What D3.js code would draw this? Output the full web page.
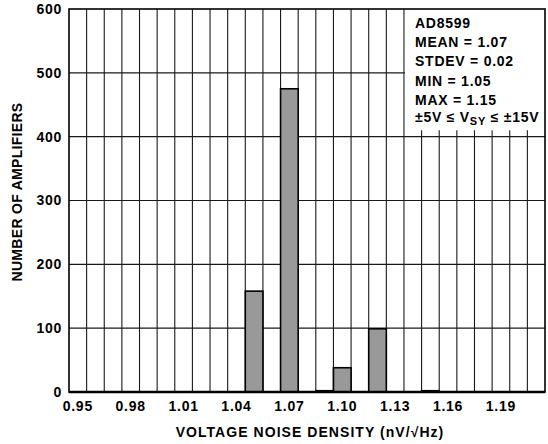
<!DOCTYPE html>
<html><head><meta charset="utf-8">
<script src="https://cdn.jsdelivr.net/npm/d3@7"></script>
<style>body{margin:0;background:#fff}svg text{font-family:"Liberation Sans",Arial,Helvetica,sans-serif;font-weight:bold;fill:#000}</style>
</head><body><svg id="c" width="548" height="444"></svg>
<script>
const bins = ["0.95","0.96","0.97","0.98","0.99","1.00","1.01","1.02","1.03","1.04","1.05","1.06","1.07","1.08","1.09","1.10","1.11","1.12","1.13","1.14","1.15","1.16","1.17","1.18","1.19","1.20","1.21"];
const counts = [0,0,0,0,0,0,0,0,0,0,158,0,475,0,2,38,0,99,0,0,2,0,0,0,0,0,0];
const xTickLabels = ["0.95","0.98","1.01","1.04","1.07","1.10","1.13","1.16","1.19"];
const yTicks = [0,100,200,300,400,500,600];
const legendLines = ["AD8599","MEAN = 1.07","STDEV = 0.02","MIN = 1.05","MAX = 1.15"];

const svg = d3.select("#c");
const L=69, R=545, T=9, B=392;
const x = d3.scaleBand().domain(bins).range([L,R]).padding(0);
const y = d3.scaleLinear().domain([0,600]).range([B,T]);
const fs = "14px", ls = "0.75";

// gridlines
const g = svg.append("g");
g.selectAll("line.v").data(bins.slice(1)).join("line")
  .attr("x1",d=>x(d)).attr("x2",d=>x(d)).attr("y1",T).attr("y2",B)
  .attr("stroke","#1a1a1a").attr("stroke-width",1.1);
g.selectAll("line.h").data(yTicks.slice(1,-1)).join("line")
  .attr("x1",L).attr("x2",R).attr("y1",d=>y(d)).attr("y2",d=>y(d))
  .attr("stroke","#1a1a1a").attr("stroke-width",1.1);

// legend white box
const lx = x(bins[19]);
svg.append("rect").attr("x",lx+1).attr("y",T).attr("width",R-lx).attr("height",y(410)-T).attr("fill","#fff");

// bars
svg.selectAll("rect.bar").data(bins.map((b,i)=>({b,v:counts[i]})).filter(d=>d.v>0)).join("rect")
  .attr("x",d=>x(d.b)).attr("width",x.bandwidth())
  .attr("y",d=>y(d.v)).attr("height",d=>B-y(d.v))
  .attr("fill","#999").attr("stroke","#000").attr("stroke-width",1.6);

// frame
svg.append("rect").attr("x",L).attr("y",T).attr("width",R-L).attr("height",B-T)
  .attr("fill","none").attr("stroke","#000").attr("stroke-width",1.6);
svg.append("line").attr("x1",L).attr("x2",R).attr("y1",B).attr("y2",B).attr("stroke","#000").attr("stroke-width",2.4);

// y axis labels
const ya = svg.append("g").attr("transform",`translate(${L},0)`)
  .call(d3.axisLeft(y).tickValues(yTicks).tickSize(0).tickPadding(7));
ya.select(".domain").remove();
ya.selectAll("text").style("font-size",fs).style("font-family",null).attr("letter-spacing",ls);

// x axis labels
const xa = svg.append("g").attr("transform",`translate(0,${B})`)
  .call(d3.axisBottom(x).tickValues(xTickLabels).tickSize(0).tickPadding(9));
xa.select(".domain").remove();
xa.selectAll("text").style("font-size",fs).style("font-family",null).attr("letter-spacing",ls);

// titles
svg.append("text").attr("x",310).attr("y",437).attr("text-anchor","middle")
  .style("font-size",fs).attr("letter-spacing","1.05").text("VOLTAGE NOISE DENSITY (nV/√Hz)");
svg.append("text").attr("transform","translate(22,192) rotate(-90)").attr("text-anchor","middle")
  .style("font-size",fs).attr("letter-spacing","0.3").text("NUMBER OF AMPLIFIERS");

// legend text
const lt = svg.append("g");
const baselines = [28,47,66,86,105];
legendLines.forEach((s,i)=>{
  lt.append("text").attr("x",415).attr("y",baselines[i]).style("font-size",fs).attr("letter-spacing",ls).text(s);
});
const last = lt.append("text").attr("x",415).attr("y",122).style("font-size",fs).attr("letter-spacing",ls);
last.append("tspan").text("±5V ≤ V");
last.append("tspan").attr("dy",3).style("font-size","11px").text("SY");
last.append("tspan").attr("dy",-3).text(" ≤ ±15V");
</script></body></html>
